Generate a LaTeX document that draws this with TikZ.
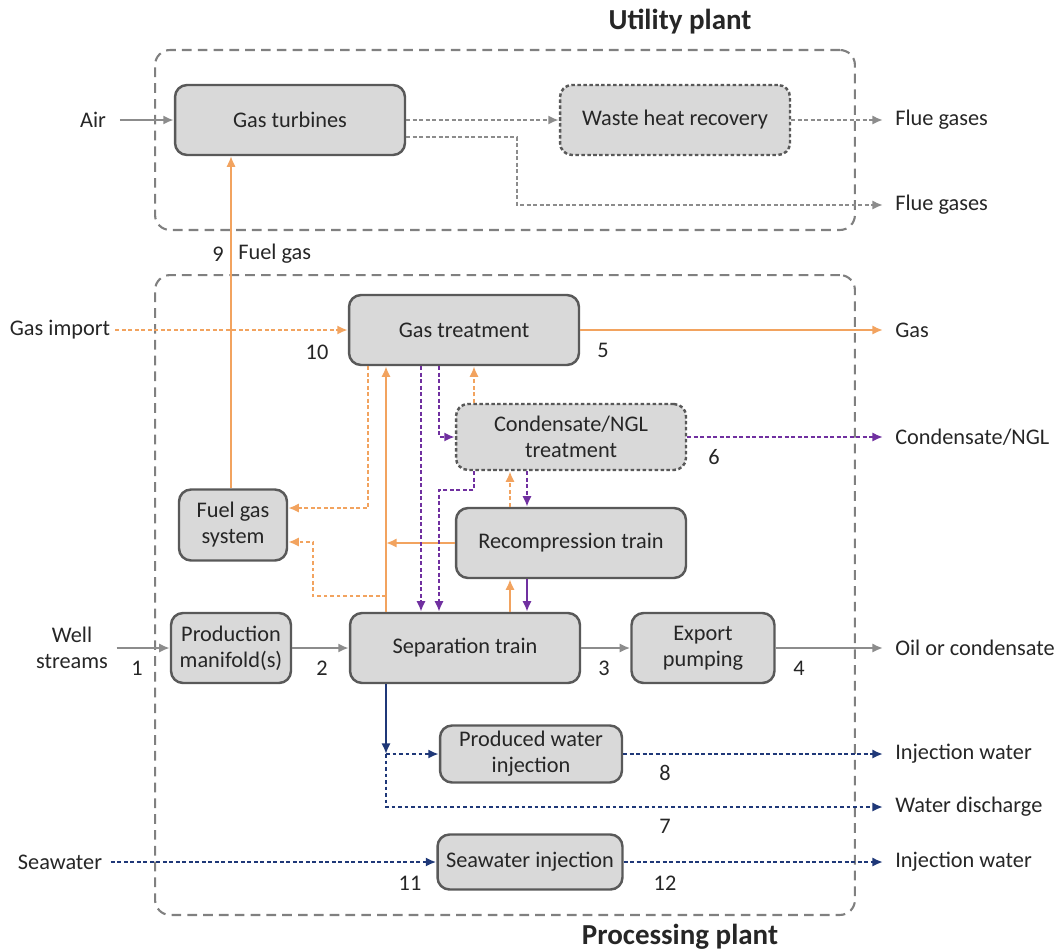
\documentclass[tikz,border=0pt]{standalone}
\usepackage{fontspec}
\setmainfont{Carlito}
\usepackage{xcolor}
\usetikzlibrary{arrows.meta}

\begin{document}
\begin{tikzpicture}[>={Latex[length=6pt,width=5.2pt]}, x=0.02cm, y=-0.02cm]

\definecolor{boxfill}{RGB}{217, 217, 217}
\definecolor{boxedge}{RGB}{89, 89, 89}
\definecolor{boxtext}{RGB}{38, 38, 38}
\definecolor{plantedge}{RGB}{128, 128, 128}
\definecolor{flowgray}{RGB}{140, 140, 140}
\definecolor{gasorange}{RGB}{242, 163, 95}
\definecolor{liquidpurple}{RGB}{112, 48, 160}
\definecolor{waterblue}{RGB}{31, 56, 120}

% Page frame
\useasboundingbox (0,0) rectangle (1059,951);

\tikzset{
    unit/.style={
        draw=boxedge, line width=1.4pt, fill=boxfill,
        rectangle, rounded corners=0.24cm,
        minimum width=4.6cm, minimum height=1.4cm,
        text=boxtext, font=\fontsize{12.7}{14.8}\selectfont, align=center, inner sep=2pt
    },
    dotted box/.style={unit, dash pattern=on 2pt off 1.4pt},
    plant/.style={
        draw=plantedge, line width=1.2pt, dash pattern=on 5.5pt off 3.5pt,
        rectangle, rounded corners=0.3cm, minimum width=14cm
    },
    title/.style={text=boxtext, font=\fontsize{16.5}{19}\selectfont\bfseries},
    inlabel/.style={text=boxtext, font=\fontsize{12.7}{14.8}\selectfont, align=center, inner sep=0pt, outer sep=5pt},
    outlabel/.style={text=boxtext, font=\fontsize{12.7}{14.8}\selectfont, anchor=west, inner sep=0pt, outer sep=7pt},
    num/.style={text=boxtext, font=\fontsize{12.7}{14.8}\selectfont, inner sep=0pt},
    solid flow/.style={draw=#1, line width=1.2pt, ->},
    dotted flow/.style={draw=#1, line width=1.5pt, dash pattern=on 2.2pt off 1.5pt, ->}
}

% --- PLANT AREAS ---
\node[plant, minimum height=3.6cm] (utility) at (505,140) {};
\node[plant, minimum height=12.8cm] (processing) at (505,595) {};
\node[title] (utiltitle) at (680,22) {Utility plant};
\node[title] (proctitle) at (680,937) {Processing plant};

% --- UNITS ---
\node[unit] (gt) at (290,120) {Gas turbines};
\node[dotted box] (whr) at (675,120) {Waste heat recovery};
\node[unit] (gtr) at (464,330) {Gas treatment};
\node[dotted box, minimum height=1.32cm] (cond) at (571,437) {Condensate/NGL\\treatment};
\node[unit] (recomp) at (571,543) {Recompression train};
\node[unit, minimum width=2.16cm, minimum height=1.42cm] (fgs) at (233,525) {Fuel gas\\system};
\node[unit, minimum width=2.4cm] (pm) at (231,648) {Production\\manifold(s)};
\node[unit] (sep) at (465,648) {Separation train};
\node[unit, minimum width=2.86cm] (exp) at (703,648) {Export\\pumping};
\node[unit, minimum width=3.64cm, minimum height=1.14cm] (pwi) at (531,754) {Produced water\\injection};
\node[unit, minimum width=3.7cm, minimum height=1.1cm] (swi) at (530,862) {Seawater injection};

% --- STREAM LABELS ---
\node[inlabel, outer sep=8pt] (air) at (93,120) {Air};
\node[inlabel, outer sep=3pt] (gasimport) at (60,330) {Gas import};
\node[inlabel] (wells) at (72,648) {Well\\streams};
\node[inlabel] (seawater) at (60,862) {Seawater};

\node[outlabel] (flue1) at (883,120) {Flue gases};
\node[outlabel] (flue2) at (883,205) {Flue gases};
\node[outlabel] (gas) at (883,330) {Gas};
\node[outlabel] (ngl) at (883,437) {Condensate/NGL};
\node[outlabel] (oil) at (883,648) {Oil or condensate};
\node[outlabel] (pwout) at (883,754) {Injection water};
\node[outlabel] (discharge) at (883,807) {Water discharge};
\node[outlabel] (swout) at (883,862) {Injection water};

% stream numbers
\node[num] (n1) at (137,668) {1};
\node[num] (n2) at (322,668) {2};
\node[num] (n3) at (604,668) {3};
\node[num] (n4) at (799,668) {4};
\node[num] (n5) at (603,350) {5};
\node[num] (n6) at (714,457) {6};
\node[num] (n7) at (665,826) {7};
\node[num] (n8) at (665,773) {8};
\node[num] (n9) at (218,254) {9};
\node[num, anchor=west] (fuelgas) at (238,254) {Fuel gas};
\node[num] (n10) at (317,352) {10};
\node[num] (n11) at (410,883) {11};
\node[num] (n12) at (665,883) {12};

% --- HELPER COORDINATES ---
\coordinate (xF) at (231,0);
\coordinate (xa) at (368,0);
\coordinate (xb) at (386,0);
\coordinate (xc) at (421,0);
\coordinate (xd) at (439,0);
\coordinate (xe) at (474,0);
\coordinate (xg) at (510,0);
\coordinate (xh) at (527,0);
\coordinate (xs) at (313,0);
\coordinate (fluebend) at (517,205);
\coordinate (fgsup) at ([yshift=0.34cm]fgs.east);
\coordinate (fgslow) at ([yshift=-0.34cm]fgs.east);
\coordinate (tap) at (386,596);
\coordinate (pturn) at (439,490);
\coordinate (wj) at (386,754);

% --- UTILITY FLOWS ---
\draw[solid flow=flowgray] (air) -- (gt);
\draw[dotted flow=flowgray] (gt) -- (whr);
\draw[dotted flow=flowgray] (whr) -- (flue1);
\draw[dotted flow=flowgray] ([yshift=-0.34cm]gt.east) -| (fluebend) -- (flue2);
\draw[gasorange, line width=0.8pt, ->] (fgs.north -| xF) -- (gt.south -| xF);

% --- GAS ---
\draw[dotted flow=gasorange] (gasimport) -- (gtr);
\draw[solid flow=gasorange] (gtr) -- (gas);
\draw[solid flow=gasorange] (sep.north -| xb) -- (gtr.south -| xb);
\draw[solid flow=gasorange] (recomp) -- (recomp.west -| xb);
\draw[dotted flow=gasorange] (gtr.south -| xa) |- (fgsup);
\draw[dotted flow=gasorange] (tap) -| (fgslow -| xs) -- (fgslow);
\draw[dotted flow=gasorange] (cond.north -| xe) -- (gtr.south -| xe);
\draw[dotted flow=gasorange] (recomp.north -| xg) -- (cond.south -| xg);
\draw[solid flow=gasorange] (sep.north -| xg) -- (recomp.south -| xg);

% --- CONDENSATE / NGL ---
\draw[dotted flow=liquidpurple] (gtr.south -| xc) -- (sep.north -| xc);
\draw[dotted flow=liquidpurple] (gtr.south -| xd) |- (cond.west);
\draw[dotted flow=liquidpurple] (cond.south -| xe) |- (pturn) -- (sep.north -| pturn);
\draw[dotted flow=liquidpurple] (cond.south -| xh) -- (recomp.north -| xh);
\draw[solid flow=liquidpurple] (recomp.south -| xh) -- (sep.north -| xh);
\draw[dotted flow=liquidpurple] (cond) -- (ngl);

% --- OIL ---
\draw[solid flow=flowgray] (wells) -- (pm);
\draw[solid flow=flowgray] (pm) -- (sep);
\draw[solid flow=flowgray] (sep) -- (exp);
\draw[solid flow=flowgray] (exp) -- (oil);

% --- WATER ---
\draw[solid flow=waterblue] (sep.south -| wj) -- (wj);
\draw[dotted flow=waterblue] (wj) -- (pwi);
\draw[dotted flow=waterblue] (wj) |- (discharge);
\draw[dotted flow=waterblue] (pwi) -- (pwout);
\draw[dotted flow=waterblue] (seawater) -- (swi);
\draw[dotted flow=waterblue] (swi) -- (swout);

\end{tikzpicture}
\end{document}
